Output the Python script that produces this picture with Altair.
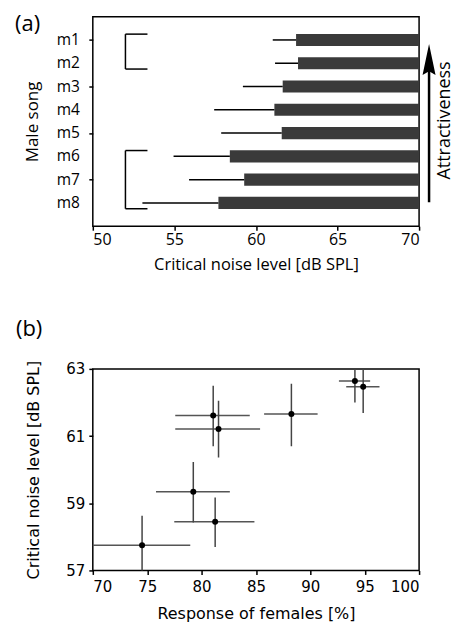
import altair as alt
import pandas as pd

# ---- panel (a) data ----
songs = ["m1", "m2", "m3", "m4", "m5", "m6", "m7", "m8"]
crit_noise = [62.46, 62.58, 61.64, 61.13, 61.58, 58.40, 59.28, 57.70]
crit_err_low = [61.03, 61.17, 59.20, 57.44, 57.87, 54.95, 55.90, 53.04]
bracket_first = ["m1", "m6"]
bracket_last = ["m2", "m8"]
x_ticks_a = [50, 55, 60, 65, 70]

# ---- panel (b) data ----
resp = [94.10, 94.86, 88.26, 81.07, 81.56, 79.24, 81.25, 74.53]
resp_lo = [92.63, 93.30, 85.75, 77.58, 77.58, 75.81, 77.49, 69.50]
resp_hi = [95.50, 96.36, 90.67, 84.43, 85.38, 82.60, 84.86, 78.96]
noise_b = [62.64, 62.47, 61.66, 61.61, 61.21, 59.34, 58.45, 57.75]
noise_b_lo = [62.00, 61.69, 60.70, 60.70, 60.36, 58.43, 57.70, 56.90]
noise_b_hi = [63.20, 63.20, 62.56, 62.50, 62.05, 60.23, 59.17, 58.63]
x_ticks_b = [70, 75, 80, 85, 90, 95, 100]
y_ticks_b = [57, 59, 61, 63]

FA = "Open Sans"
FB = "DejaVu Sans"
HALF = 0.26  # half bar thickness in row units

df_a = pd.DataFrame({
    "song": songs,
    "idx": list(range(1, len(songs) + 1)),
    "crit": crit_noise,
    "err": crit_err_low,
})
df_a["lo"] = df_a["idx"] - HALF
df_a["hi"] = df_a["idx"] + HALF
df_a["end"] = x_ticks_a[-1]

pos = {s: i + 1 for i, s in enumerate(songs)}
df_br = pd.DataFrame({
    "top": [pos[s] - 0.25 for s in bracket_first],
    "bot": [pos[s] + 0.25 for s in bracket_last],
})
df_br["bx"] = 52.0
df_br["tx"] = 53.35
df_br_h = pd.concat([
    pd.DataFrame({"yy": df_br["top"], "bx": df_br["bx"], "tx": df_br["tx"]}),
    pd.DataFrame({"yy": df_br["bot"], "bx": df_br["bx"], "tx": df_br["tx"]}),
])

one = pd.DataFrame({"k": [0]})  # single row for one-off annotations

x_scale_a = alt.Scale(domain=[50, 70], nice=False)
ya_scale = alt.Scale(domain=[0, 9], reverse=True, nice=False)
ya_axis = alt.Axis(values=list(range(1, len(songs) + 1)), labels=False,
                   title="Male song", titleFont=FA, titleFontSize=17, titlePadding=47)
xa_axis = alt.Axis(values=x_ticks_a, title="Critical noise level [dB SPL]",
                   labelFont=FA, labelFontSize=16, titleFont=FA, titleFontSize=16.5,
                   labelPadding=1, titlePadding=9)

bars = alt.Chart(df_a).mark_rect(color="#3a3a3a").encode(
    x=alt.X("crit:Q", scale=x_scale_a, axis=xa_axis), x2="end:Q",
    y=alt.Y("lo:Q", scale=ya_scale, axis=ya_axis), y2="hi:Q")
errs = alt.Chart(df_a).mark_rule(color="black", strokeWidth=1.5).encode(
    x="err:Q", x2="crit:Q", y="idx:Q")
song_labels = alt.Chart(df_a).mark_text(
    font=FA, fontSize=15.5, align="right", baseline="middle", color="black").encode(
    x=alt.value(-13), y="idx:Q", text="song:N")
br_v = alt.Chart(df_br).mark_rule(color="black", strokeWidth=1.5).encode(
    x="bx:Q", y="top:Q", y2="bot:Q")
br_h = alt.Chart(df_br_h).mark_rule(color="black", strokeWidth=1.5).encode(
    x="bx:Q", x2="tx:Q", y="yy:Q")
shaft = alt.Chart(one).mark_rule(color="black", strokeWidth=2.5).encode(
    x=alt.value(337), y=alt.value(186), y2=alt.value(50))
head = alt.Chart(one).mark_point(
    shape="M0,-1L-0.42,1L0,0.75L0.42,1Z", filled=True, color="black", opacity=1,
    size=961).encode(x=alt.value(337), y=alt.value(43))
attr_txt = alt.Chart(one).mark_text(
    text="Attractiveness", angle=270, font=FA, fontSize=18, fontWeight=400,
    align="center", baseline="middle", color="black").encode(
    x=alt.value(353), y=alt.value(104))
lab_a = alt.Chart(one).mark_text(
    text="(a)", font=FA, fontSize=22, fontWeight=400, align="left", baseline="middle",
    color="black").encode(x=alt.value(-78), y=alt.value(7))

panel_a = alt.layer(bars, errs, song_labels, br_v, br_h, shaft, head, attr_txt,
                    lab_a).properties(width=327, height=210)

df_b = pd.DataFrame({
    "resp": resp, "rlo": resp_lo, "rhi": resp_hi,
    "noise": noise_b, "nlo": noise_b_lo, "nhi": noise_b_hi,
})
x_scale_b = alt.Scale(domain=[70, 100], nice=False)
y_scale_b = alt.Scale(domain=[57, 63], nice=False)
xb_axis = alt.Axis(values=x_ticks_b, title="Response of females [%]",
                   labelFont=FB, labelFontSize=15, titleFont=FB, titleFontSize=16,
                   labelPadding=5, titlePadding=11)
yb_axis = alt.Axis(values=y_ticks_b, title="Critical noise level [dB SPL]",
                   labelFont=FB, labelFontSize=15, titleFont=FB, titleFontSize=16,
                   labelPadding=4, titlePadding=24)

hrule = alt.Chart(df_b).mark_rule(color="#555555", strokeWidth=1.5, clip=True).encode(
    x=alt.X("rlo:Q", scale=x_scale_b, axis=xb_axis), x2="rhi:Q",
    y=alt.Y("noise:Q", scale=y_scale_b, axis=yb_axis))
vrule = alt.Chart(df_b).mark_rule(color="#444444", strokeWidth=1.5, clip=True).encode(
    x="resp:Q", y="nlo:Q", y2="nhi:Q")
pts = alt.Chart(df_b).mark_circle(color="black", size=36, opacity=1).encode(
    x="resp:Q", y="noise:Q")
lab_b = alt.Chart(one).mark_text(
    text="(b)", font=FA, fontSize=22, fontWeight=400, align="left", baseline="middle",
    color="black").encode(x=alt.value(-77), y=alt.value(-40))

panel_b = alt.layer(hrule, vrule, pts, lab_b).properties(width=327, height=202)

chart = alt.vconcat(panel_a, panel_b, spacing=43).properties(
    padding={"left": 6, "top": 3, "right": 0, "bottom": 0}
).configure_view(
    stroke="black", strokeWidth=1.5
).configure_axis(
    domain=False, grid=False, tickColor="black", tickSize=4, tickWidth=1.5,
    labelColor="black", titleColor="black", titleFontWeight="normal"
)

chart.save("out.html", embed_options={"renderer": "svg", "actions": False})
